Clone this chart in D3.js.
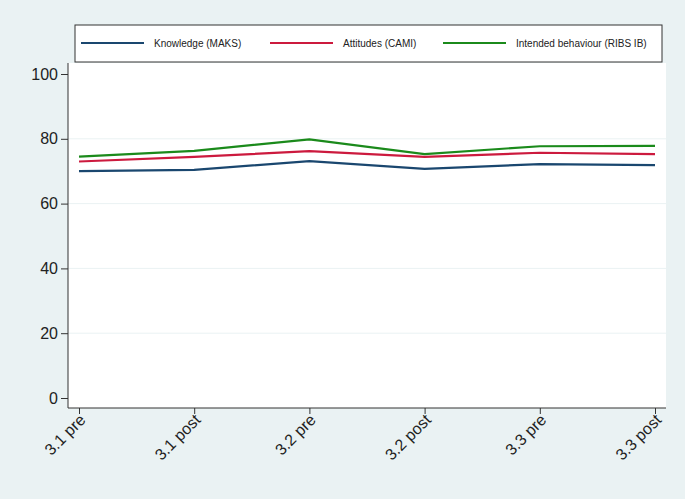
<!DOCTYPE html>
<html>
<head>
<meta charset="utf-8">
<script src="https://cdn.jsdelivr.net/npm/d3@7"></script>
<style>
  body { margin: 0; background: #eaf2f3; }
  text { font-family: "Liberation Sans", Arial, sans-serif; fill: #222; }
</style>
</head>
<body>
<svg class="chart"></svg>
<script>
var width = 685,
    height = 499;

var margin = {top: 63, right: 19, bottom: 91, left: 68},
    w = width - margin.left - margin.right,
    h = height - margin.top - margin.bottom;

// data
var waves = ["3.1 pre", "3.1 post", "3.2 pre", "3.2 post", "3.3 pre", "3.3 post"];
var knowledge = [70.0, 70.4, 73.1, 70.7, 72.2, 71.9];
var attitudes = [73.0, 74.4, 76.2, 74.4, 75.7, 75.3];
var behaviour = [74.5, 76.3, 79.8, 75.3, 77.7, 77.8];
var yTicks = [0, 20, 40, 60, 80, 100];

var series = [
  {name: "Knowledge (MAKS)", values: knowledge, color: "#1a476f"},
  {name: "Attitudes (CAMI)", values: attitudes, color: "#cc1a3e"},
  {name: "Intended behaviour (RIBS IB)", values: behaviour, color: "#1b8a1b"}
];

var svg = d3.select(".chart")
    .attr("width", width)
    .attr("height", height);

var chart = svg.append("g")
    .attr("transform", "translate(" + margin.left + "," + margin.top + ")");

var x = d3.scalePoint().domain(waves).range([11, 587]),
    y = d3.scaleLinear().domain([0, 100]).range([335, 11]);

// plot region
chart.append("rect")
    .attr("width", w)
    .attr("height", h)
    .attr("fill", "#fff");

// grid
chart.selectAll(".grid")
    .data([20, 40, 60, 80])
  .enter().append("line")
    .attr("x1", 0).attr("x2", w)
    .attr("y1", function(d) { return y(d); })
    .attr("y2", function(d) { return y(d); })
    .attr("stroke", "#eaf2f3")
    .attr("stroke-width", 1);

var line = d3.line()
    .x(function(d, i) { return x(waves[i]); })
    .y(function(d) { return y(d); });

chart.selectAll(".series")
    .data(series)
  .enter().append("path")
    .attr("d", function(d) { return line(d.values); })
    .attr("fill", "none")
    .attr("stroke", function(d) { return d.color; })
    .attr("stroke-width", 2.2);

// axes
var yAxis = d3.axisLeft(y).tickValues(yTicks).tickSize(7).tickPadding(3);
var xAxis = d3.axisBottom(x).tickSize(6).tickPadding(4);

var gy = chart.append("g").call(yAxis);
gy.select(".domain").attr("d", "M0," + h + "V0");
gy.selectAll("line, path").attr("stroke", "#333");
gy.selectAll("text").attr("font-size", 16).attr("font-family", "Liberation Sans, Arial, sans-serif").attr("fill", "#222");

var gx = chart.append("g")
    .attr("transform", "translate(0," + h + ")")
    .call(xAxis);
gx.select(".domain").attr("d", "M0,0H" + w);
gx.selectAll("line, path").attr("stroke", "#333");
gx.selectAll("text")
    .attr("font-size", 16)
    .attr("font-family", "Liberation Sans, Arial, sans-serif")
    .attr("fill", "#222")
    .attr("text-anchor", "end")
    .attr("dy", "0.35em")
    .attr("transform", "translate(3,9) rotate(-45)")
    .attr("x", 0).attr("y", 0);

// legend
var legend = svg.append("g");
legend.append("rect")
    .attr("x", 75).attr("y", 25)
    .attr("width", 587).attr("height", 37)
    .attr("fill", "#fff")
    .attr("stroke", "#333")
    .attr("stroke-width", 1);

var lx = [81, 270, 443];
var item = legend.selectAll(".item")
    .data(series)
  .enter().append("g")
    .attr("transform", function(d, i) { return "translate(" + lx[i] + ",43)"; });
item.append("line")
    .attr("x1", 0).attr("x2", 63)
    .attr("stroke", function(d) { return d.color; })
    .attr("stroke-width", 2.2);
item.append("text")
    .attr("x", 73)
    .attr("dy", "0.35em")
    .attr("font-size", 10)
    .text(function(d) { return d.name; });
</script>
</body>
</html>
